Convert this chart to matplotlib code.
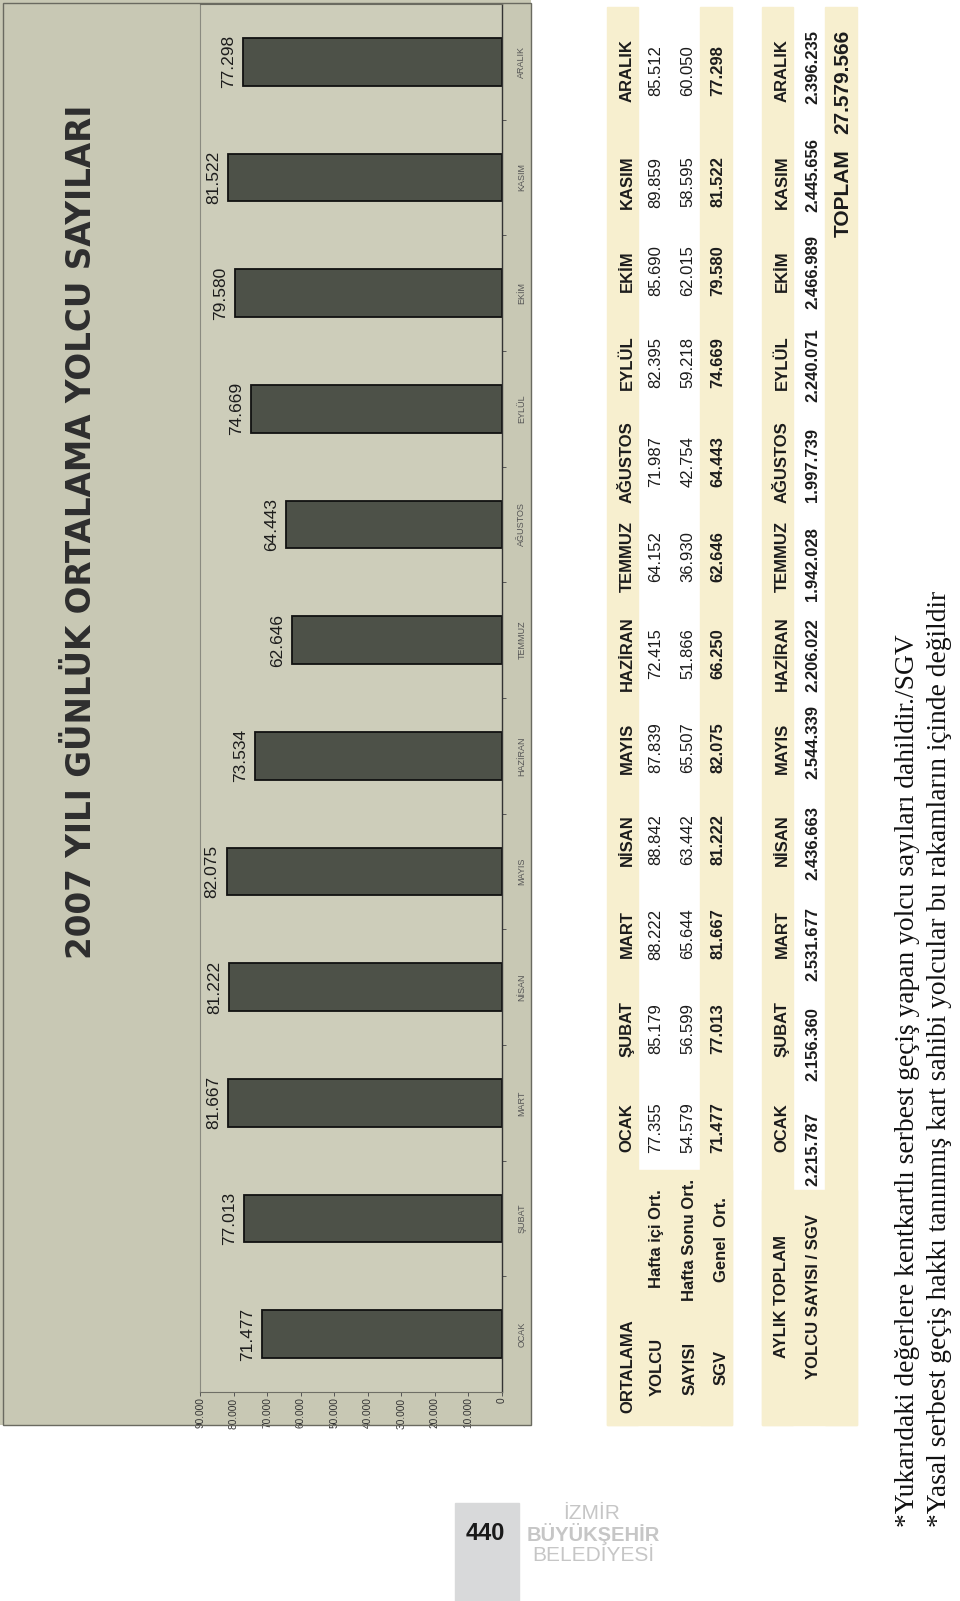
import matplotlib
matplotlib.use('Agg')
import matplotlib.pyplot as plt
from matplotlib.patches import Rectangle

# ---------------------------------------------------------------- data
MONTHS = ['OCAK', 'ŞUBAT', 'MART', 'NİSAN', 'MAYIS', 'HAZİRAN',
          'TEMMUZ', 'AĞUSTOS', 'EYLÜL', 'EKİM', 'KASIM', 'ARALIK']
bar_values = [71477, 77013, 81667, 81222, 82075, 73534,
              62646, 64443, 74669, 79580, 81522, 77298]
hafta_ici = [77355, 85179, 88222, 88842, 87839, 72415,
             64152, 71987, 82395, 85690, 89859, 85512]
hafta_sonu = [54579, 56599, 65644, 63442, 65507, 51866,
              36930, 42754, 59218, 62015, 58595, 60050]
genel = [71477, 77013, 81667, 81222, 82075, 66250,
         62646, 64443, 74669, 79580, 81522, 77298]
aylik_toplam = [2215787, 2156360, 2531677, 2436663, 2544339, 2206022,
                1942028, 1997739, 2240071, 2466989, 2445656, 2396235]
toplam = 27579566
xticks = list(range(0, 90001, 10000))

TITLE = '2007 YILI GÜNLÜK ORTALAMA YOLCU SAYILARI'
NOTE1 = '*Yukarıdaki değerlere kentkartlı serbest geçiş yapan yolcu sayıları dahildir./SGV'
NOTE2 = '*Yasal serbest geçiş hakkı tanınmış kart sahibi yolcular bu rakamların içinde değildir'


def dots(v):
    return f'{int(v):,}'.replace(',', '.')


# ---------------------------------------------------------------- style
W, H = 960, 1601
INK = '#1c1c1c'
BEIGE = '#f7efcf'
plt.rcParams.update({
    'font.family': ['Liberation Sans', 'DejaVu Sans'],
})


def fx(x):
    return x / W


def fy(y):
    return 1 - y / H


def rect(x0, y0, x1, y1, **kw):
    fig.add_artist(Rectangle((fx(x0), fy(y1)), (x1 - x0) / W, (y1 - y0) / H,
                             transform=fig.transFigure, **kw))


def vtext(x, y, s, **kw):
    kw.setdefault('color', INK)
    fig.text(fx(x), fy(y), s, rotation=90, ha='center', va='center', **kw)


fig = plt.figure(figsize=(W / 100, H / 100), dpi=100)

# chart background panel
rect(0, 0, 531, 1425, facecolor='#c8c8b4', linewidth=0, zorder=0)
rect(3, 3, 531, 1425, fill=False, edgecolor='#6a6a60', linewidth=1.0, zorder=1)

# ---------------------------------------------------------------- bar chart
ax = fig.add_axes([fx(200), fy(1392), (502 - 200) / W, (1392 - 4) / H])
ax.patch.set_facecolor('#cdcdba')
ypos = list(range(len(MONTHS)))
ax.barh(ypos, bar_values, height=0.41, color='#4d5148', edgecolor='#111111',
        linewidth=1.3, zorder=2)
for y, v in zip(ypos, bar_values):
    ax.annotate(dots(v), (v, y), xytext=(-5, 0), textcoords='offset points',
                rotation=90, ha='right', va='center', fontsize=12.5, color=INK)

ax.set_xlim(90000, 0)
ax.set_ylim(-0.5, 11.5)
ax.set_xticks(xticks)
ax.set_xticklabels([dots(t) for t in xticks], rotation=90, fontsize=7.3, color='#333333')
ax.tick_params(axis='x', length=3, width=0.7, pad=1, color='#555555')
ax.yaxis.tick_right()
ax.set_yticks(ypos)
ax.set_yticklabels(MONTHS, rotation=90, va='center', fontsize=6.5, color='#555555')
ax.set_yticks([i + 0.5 for i in ypos[:-1]], minor=True)
ax.tick_params(axis='y', which='major', length=0, pad=11)
ax.tick_params(axis='y', which='minor', length=3, width=0.7, color='#555555')
for side, c, lw in (('right', '#333333', 1.0), ('bottom', '#6f6f66', 0.8),
                    ('left', '#8a8a80', 0.8), ('top', '#6a6a60', 0.8)):
    ax.spines[side].set_color(c)
    ax.spines[side].set_linewidth(lw)

vtext(82, 532, TITLE, fontsize=23.5, fontweight='bold', color='#2e2e2e',
      family=['DejaVu Sans'])

# ---------------------------------------------------------------- tables
rect(607, 7, 638, 1425, color=BEIGE, zorder=0)
rect(700, 7, 732, 1425, color=BEIGE, zorder=0)
rect(607, 1170, 732, 1425, color=BEIGE, zorder=0)
rect(762, 7, 793, 1425, color=BEIGE, zorder=0)
rect(825, 7, 857, 1425, color=BEIGE, zorder=0)
rect(762, 1190, 857, 1425, color=BEIGE, zorder=0)

col_y = [1128, 1029, 934, 840, 748, 654, 557, 462, 363, 271, 182, 71]
col_y2 = [1149, 1044, 944, 843, 742, 655, 564, 465, 365, 272, 175, 67]

vtext(628, 1366, 'ORTALAMA', fontsize=12, fontweight='bold')
vtext(657, 1367, 'YOLCU', fontsize=12, fontweight='bold')
vtext(690, 1368, 'SAYISI', fontsize=12, fontweight='bold')
vtext(721, 1367, 'SGV', fontsize=12, fontweight='bold')
vtext(657, 1239, 'Hafta içi Ort.', fontsize=12, fontweight='bold')
vtext(690, 1240, 'Hafta Sonu Ort.', fontsize=12, fontweight='bold')
vtext(721, 1240, 'Genel  Ort.', fontsize=12, fontweight='bold')
for m, y, a, b, g in zip(MONTHS, col_y, hafta_ici, hafta_sonu, genel):
    vtext(627, y, m, fontsize=12, fontweight='bold')
    vtext(656, y, dots(a), fontsize=12)
    vtext(688, y, dots(b), fontsize=12)
    vtext(718, y, dots(g), fontsize=12, fontweight='bold')

vtext(782, 1296, 'AYLIK TOPLAM', fontsize=12, fontweight='bold')
vtext(813, 1297, 'YOLCU SAYISI / SGV', fontsize=12, fontweight='bold')
for m, y, y2, t in zip(MONTHS, col_y, col_y2, aylik_toplam):
    vtext(782, y, m, fontsize=12, fontweight='bold')
    vtext(813, y2, dots(t), fontsize=12, fontweight='bold')
vtext(843, 193, 'TOPLAM', fontsize=15, fontweight='bold')
vtext(843, 82, dots(toplam), fontsize=15, fontweight='bold')

# ---------------------------------------------------------------- notes
for x, s in ((908, NOTE1), (940, NOTE2)):
    fig.text(fx(x), fy(1527), s, rotation=90, ha='center', va='bottom',
             fontsize=19.8, color='#111111',
             family=['Liberation Serif', 'DejaVu Serif'])

# ---------------------------------------------------------------- page footer
rect(455, 1503, 519, 1601, color='#d8d9da', zorder=0)
fig.text(fx(485), fy(1533), '440', ha='center', va='center',
         fontsize=17, fontweight='bold', color='#1a1a1a')
LOGO = '#c6c6c6'
fig.text(fx(592), fy(1513), 'İZMİR', ha='center', va='center', fontsize=15, color=LOGO)
fig.text(fx(593), fy(1534), 'BÜYÜKŞEHİR', ha='center', va='center', fontsize=14.5,
         fontweight='bold', color=LOGO)
fig.text(fx(593), fy(1555), 'BELEDİYESİ', ha='center', va='center', fontsize=15, color=LOGO)

fig.savefig('out.png', dpi=100)
